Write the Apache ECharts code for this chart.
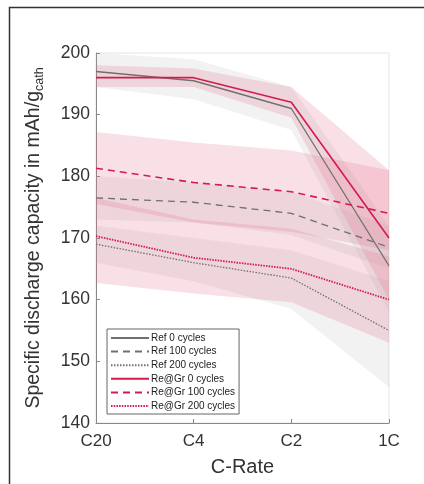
<!DOCTYPE html>
<html>
<head>
<meta charset="utf-8">
<script src="https://cdn.jsdelivr.net/npm/echarts@6/dist/echarts.min.js"></script>
<style>
  html, body { margin: 0; padding: 0; background: #fff; }
  #chart { width: 424px; height: 484px; }
</style>
</head>
<body>
<div id="chart"></div>
<script>
// C-Rate categories
const rates = ['C20', 'C4', 'C2', '1C'];

// mean lines
const ref0 = [197, 195.5, 191, 165.5];
const ref100 = [176.5, 175.8, 174, 168.5];
const ref200 = [169, 166, 163.5, 155];
const re0 = [196, 196, 192, 170];
const re100 = [181.3, 179, 177.5, 174];
const re200 = [170.3, 166.8, 165, 160];

// spread bands (upper / lower)
const ref0Up = [200, 199, 194.5, 172];
const ref0Lo = [194.5, 192.5, 187.5, 158];
const ref100Up = [180, 179, 177.5, 172];
const ref100Lo = [173, 172.5, 170.5, 165];
const ref200Up = [172, 170, 168, 163];
const ref200Lo = [166, 163, 158.5, 145.8];
const re0Up = [198, 197.5, 194.5, 181];
const re0Lo = [194.5, 194.5, 189.5, 160];
const re100Up = [187.2, 185.5, 184.2, 181];
const re100Lo = [175.5, 172.5, 171, 168];
const re200Up = [176.5, 173, 171.5, 167];
const re200Lo = [162.7, 161, 159.6, 153];

const RED = '#d41c4c';
const GRAY = '#707070';
const PINK_FILL = 'rgba(226, 100, 130, 0.2)';
const GRAY_FILL = 'rgba(175, 175, 175, 0.16)';
const FONT = 'Liberation Sans, Arial, sans-serif';

function band(id, lo, up, fill) {
    return [
        {
            name: id + '_lo', type: 'line', stack: id, data: lo,
            symbol: 'none', lineStyle: { opacity: 0 }, silent: true, z: 1
        },
        {
            name: id + '_up', type: 'line', stack: id,
            data: up.map((v, i) => v - lo[i]),
            symbol: 'none', lineStyle: { opacity: 0 },
            areaStyle: { color: fill, opacity: 1 }, silent: true, z: 1
        }
    ];
}

function line(name, data, color, type, width) {
    return {
        name: name, type: 'line', data: data, symbol: 'none', z: 3,
        itemStyle: { color: color },
        lineStyle: { color: color, type: type, width: width }
    };
}

let chart = echarts.init(document.getElementById('chart'));
chart.setOption({
    animation: false,
    backgroundColor: '#fff',
    textStyle: { fontFamily: FONT },
    grid: {
        left: 96, right: 35, top: 53, bottom: 61,
        show: true, borderColor: '#e4e4e4', borderWidth: 1
    },
    legend: {
        orient: 'vertical',
        left: 107, top: 329,
        data: ['Ref 0 cycles', 'Ref 100 cycles', 'Ref 200 cycles',
            'Re@Gr 0 cycles', 'Re@Gr 100 cycles', 'Re@Gr 200 cycles'],
        itemWidth: 38, itemHeight: 10, itemGap: 3.6,
        padding: [4, 4, 3, 3],
        borderColor: '#666', borderWidth: 1,
        backgroundColor: '#fff',
        itemStyle: { opacity: 0 },
        textStyle: { fontSize: 10, color: '#222', padding: [0, 0, 0, -3] }
    },
    xAxis: {
        type: 'category',
        data: rates,
        boundaryGap: false,
        name: 'C-Rate',
        nameLocation: 'middle',
        nameGap: 34,
        nameTextStyle: { fontSize: 20, color: '#333' },
        axisLine: { lineStyle: { color: '#888', width: 1 } },
        axisTick: { inside: true, length: 4, lineStyle: { color: '#888' } },
        axisLabel: { fontSize: 17, color: '#333', margin: 10 },
        splitLine: { show: false }
    },
    yAxis: {
        type: 'value',
        min: 140, max: 200, interval: 10,
        name: '{a|Specific discharge capacity in mAh/g}{b|cath}',
        nameLocation: 'middle',
        nameGap: 50,
        nameRotate: 90,
        nameTextStyle: {
            rich: {
                a: { fontSize: 19.5, color: '#333', lineHeight: 24, fontFamily: FONT },
                b: { fontSize: 12.5, color: '#333', lineHeight: 24, padding: [11, 0, 0, 0], fontFamily: FONT }
            }
        },
        axisLine: { show: true, lineStyle: { color: '#888', width: 1 } },
        axisTick: { show: true, inside: true, length: 4, lineStyle: { color: '#888' } },
        axisLabel: { fontSize: 17.5, color: '#333', margin: 6 },
        splitLine: { show: false }
    },
    series: [
        ...band('ref0', ref0Lo, ref0Up, GRAY_FILL),
        ...band('ref100', ref100Lo, ref100Up, GRAY_FILL),
        ...band('ref200', ref200Lo, ref200Up, GRAY_FILL),
        ...band('re0', re0Lo, re0Up, PINK_FILL),
        ...band('re100', re100Lo, re100Up, PINK_FILL),
        ...band('re200', re200Lo, re200Up, PINK_FILL),
        line('Ref 0 cycles', ref0, GRAY, 'solid', 1.3),
        line('Ref 100 cycles', ref100, GRAY, [7, 5], 1.3),
        line('Ref 200 cycles', ref200, GRAY, [1.5, 1.5], 1.3),
        line('Re@Gr 0 cycles', re0, RED, 'solid', 1.6),
        line('Re@Gr 100 cycles', re100, RED, [7, 5], 1.6),
        line('Re@Gr 200 cycles', re200, RED, [1.5, 1.2], 1.8)
    ],
    graphic: [
        {
            type: 'polyline', silent: true,
            shape: { points: [[9.5, 484], [9.5, 7.5], [424, 7.5]] },
            style: { stroke: '#333', lineWidth: 1.5, fill: null }
        }
    ]
});
window.addEventListener('resize', () => chart.resize());
</script>
</body>
</html>
